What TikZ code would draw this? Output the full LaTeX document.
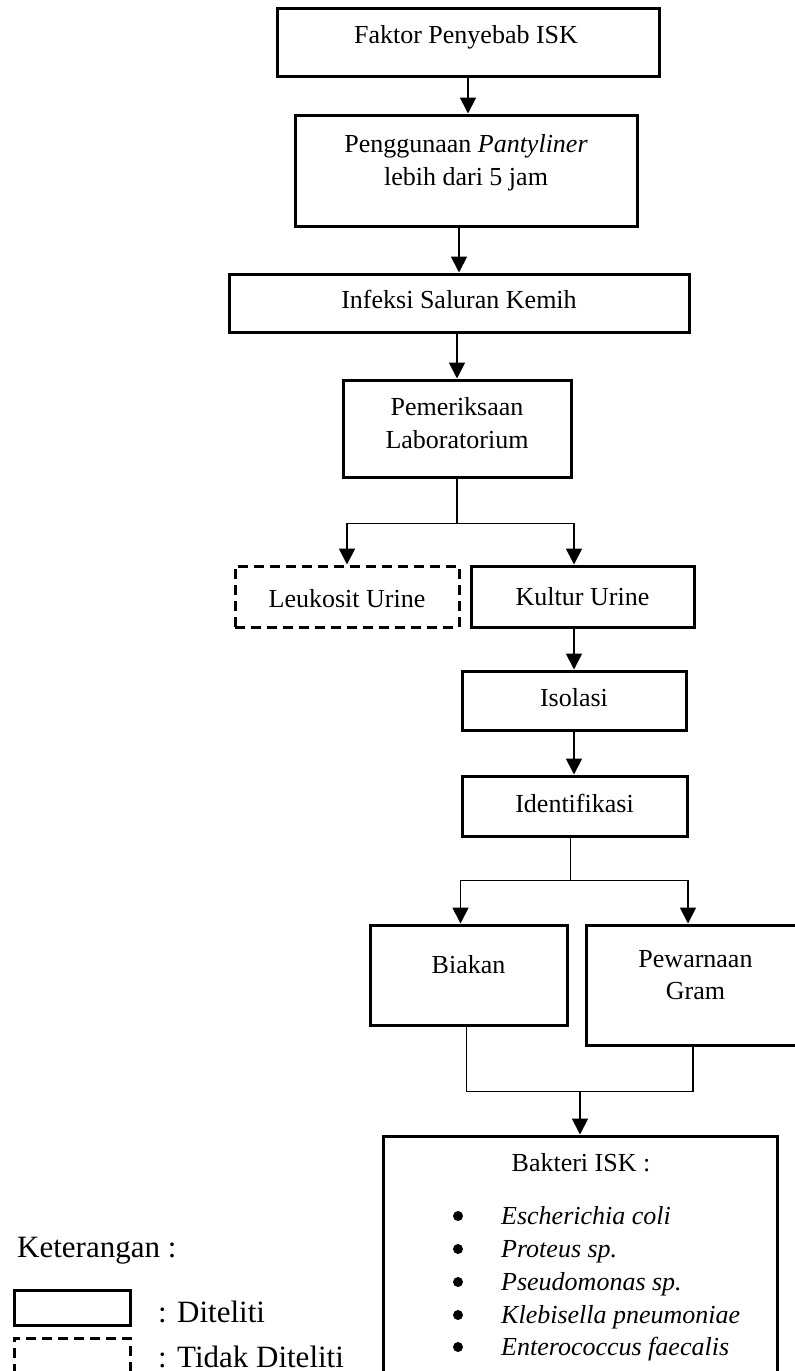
\documentclass[tikz,border=0pt]{standalone}
\usepackage{fontspec}
\setmainfont{Liberation Serif}
\usetikzlibrary{arrows.meta,calc}
\begin{document}
\begin{tikzpicture}[x=1pt,y=-1pt,
  box/.style={draw, line width=3pt, inner sep=0pt},
  dbox/.style={box, dash pattern=on 10pt off 6pt},
  txt/.style={anchor=base, inner sep=0pt, font=\fontsize{26}{32}\selectfont},
  lgd/.style={anchor=base west, inner sep=0pt, font=\fontsize{31}{37}\selectfont},
  conn/.style={line width=1.8pt},
  arr/.style={conn, -{Triangle[length=16pt,width=16pt]}},
  bul/.style={fill, circle, inner sep=0pt, minimum size=10pt}]
\useasboundingbox (0,0) rectangle (795,1371);
\clip (0,0) rectangle (795,1371);
\fill[white] (0,0) rectangle (795,1371);

% boxes
\node[box, minimum width=382, minimum height=68] (b1) at (468,42) {};
\node[txt] at (466,43) {Faktor Penyebab ISK};

\node[box, minimum width=342, minimum height=111] (b2) at (466,170.5) {};
\node[txt] at (466,152) {Penggunaan \textit{Pantyliner}};
\node[txt] at (466,185) {lebih dari 5 jam};

\node[box, minimum width=460, minimum height=58] (b3) at (459,303) {};
\node[txt] at (459,308) {Infeksi Saluran Kemih};

\node[box, minimum width=228, minimum height=97] (b4) at (457,428.5) {};
\node[txt] at (457,415) {Pemeriksaan};
\node[txt] at (457,448) {Laboratorium};

\node[dbox, minimum width=224, minimum height=61] (leuk) at (347,596.5) {};
\node[txt] at (347,607) {Leukosit Urine};

\node[box, minimum width=223, minimum height=61] (kult) at (582.5,596.5) {};
\node[txt] at (582.5,605) {Kultur Urine};

\node[box, minimum width=224, minimum height=59] (iso) at (574,700.5) {};
\node[txt] at (574,706) {Isolasi};

\node[box, minimum width=225, minimum height=60] (ident) at (574.5,806) {};
\node[txt] at (574.5,812) {Identifikasi};

\node[box, minimum width=197, minimum height=100] (biakan) at (468.5,975) {};
\node[txt] at (468.5,973) {Biakan};

\node[box, minimum width=222, minimum height=120] (pew) at (697,985) {};
\node[txt] at (695.5,967) {Pewarnaan};
\node[txt] at (695.5,999) {Gram};

\node[box, minimum width=394, minimum height=270] (bak) at (580,1271) {};
\node[txt] at (581,1171) {Bakteri ISK :};
\foreach \y/\name in {1224/Escherichia coli, 1257/Proteus sp., 1290/Pseudomonas sp., 1323/Klebisella pneumoniae, 1355/Enterococcus faecalis}{
  \node[bul] at (458,\y-8) {};
  \node[txt, anchor=base west] at (501,\y) {\textit{\name}};
}

% connectors
\draw[arr] (b1.south) -- (b1.south |- b2.north);
\draw[arr] (b2.south -| b3.north) -- (b3.north);
\draw[arr] (b3.south -| b4.north) -- (b4.north);
\draw[conn] (b4.south) -- ++(0,45) coordinate (j1);
\draw[arr] (j1) -| (leuk.north);
\draw[arr] (j1) -| (kult.north -| iso.north);
\draw[arr] (kult.south -| iso.north) -- (iso.north);
\draw[arr] (iso.south) -- (iso.south |- ident.north);
\draw[conn] ($(ident.south)+(-4,0)$) -- ++(0,43) coordinate (j2);
\draw[arr] (j2) -| ($(biakan.north)+(-8,0)$);
\draw[arr] (j2) -| ($(pew.north)+(-9,0)$);
\draw[conn] ($(biakan.south)+(-2,0)$) -- ++(0,65) coordinate (j3);
\draw[conn] ($(pew.south)+(-4,0)$) |- (j3);
\draw[arr] (j3 -| bak.north) -- (bak.north);

% legend
\node[lgd] (ket) at (17,1257) {Keterangan :};
\node[box, minimum width=116, minimum height=35] (ld) at (72,1307.5) {};
\node[lgd] at (158,1322) {: Diteliti};
\node[dbox, minimum width=116, minimum height=62] (lt) at (72,1369) {};
\node[lgd] at (158,1367) {: Tidak Diteliti};
\end{tikzpicture}
\end{document}
